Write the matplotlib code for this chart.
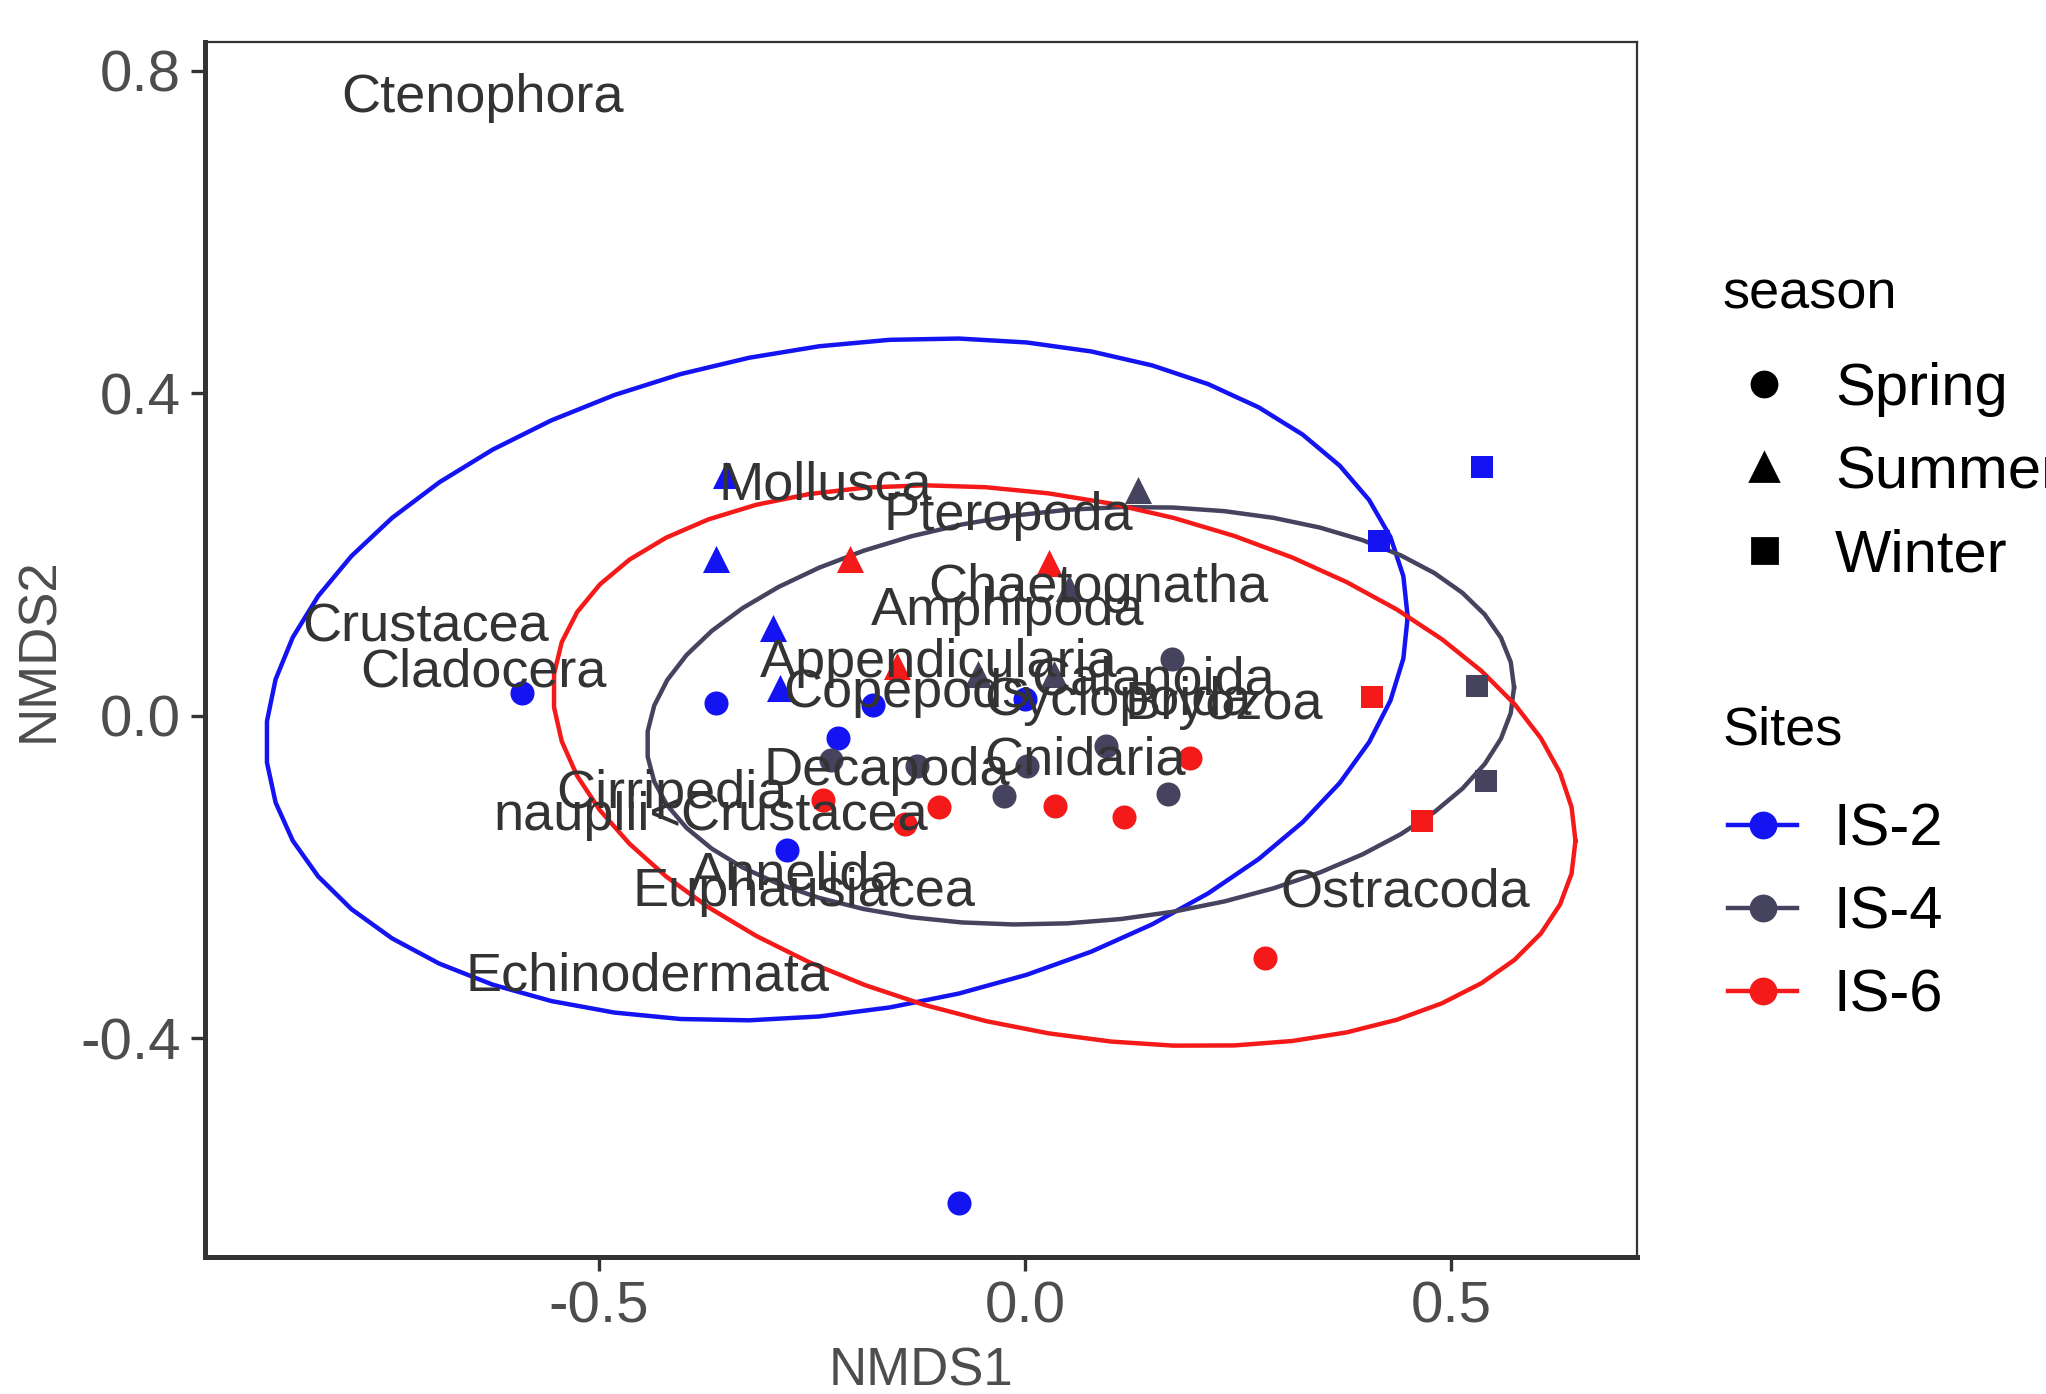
import numpy as np
import matplotlib
matplotlib.use("Agg")
import matplotlib.pyplot as plt
from matplotlib.lines import Line2D

plt.rcParams['font.family'] = ['Liberation Sans', 'DejaVu Sans']
plt.rcParams['axes.unicode_minus'] = False

# NMDS site scores
sites = ["IS-2", "IS-4", "IS-6"]
site_colors = ["#1414F2", "#46435F", "#F51A1A"]
seasons = ["Spring", "Summer", "Winter"]
season_markers = ["o", "^", "s"]

# IS-2
is2_spring_x = [-0.590, -0.363, -0.219, -0.178, 0.000, -0.279, -0.078]
is2_spring_y = [0.028, 0.016, -0.028, 0.013, 0.021, -0.167, -0.604]
is2_summer_x = [-0.351, -0.363, -0.296, -0.288]
is2_summer_y = [0.298, 0.194, 0.109, 0.034]
is2_winter_x = [0.536, 0.415]
is2_winter_y = [0.308, 0.217]
# IS-4
is4_spring_x = [0.173, 0.095, 0.002, -0.127, -0.228, -0.025, 0.168]
is4_spring_y = [0.070, -0.037, -0.063, -0.063, -0.055, -0.100, -0.097]
is4_summer_x = [0.133, 0.052, -0.055, 0.034]
is4_summer_y = [0.280, 0.159, 0.052, 0.052]
is4_winter_x = [0.531, 0.541]
is4_winter_y = [0.037, -0.081]
# IS-6
is6_spring_x = [-0.237, -0.141, -0.101, 0.035, 0.116, 0.193, 0.282]
is6_spring_y = [-0.104, -0.134, -0.113, -0.112, -0.126, -0.052, -0.300]
is6_summer_x = [-0.205, 0.028, -0.150]
is6_summer_y = [0.194, 0.189, 0.062]
is6_winter_x = [0.407, 0.466]
is6_winter_y = [0.023, -0.131]

# ellipse centre and shape (covariance * radius^2) for each site
ell_cx = [-0.221, 0.065, 0.046]
ell_cy = [0.045, 0.000, -0.062]
ell_sxx = [0.449, 0.259, 0.360]
ell_syy = [0.1790, 0.0671, 0.121]
ell_sxy = [0.052, 0.0179, -0.056]

# species scores
species = ["Ctenophora", "Mollusca", "Pteropoda", "Chaetognatha", "Amphipoda",
           "Crustacea", "Cladocera", "Appendicularia", "Copepods", "Cyclopoida",
           "Calanoida", "Bryozoa", "Decapoda", "Cnidaria", "Cirripedia",
           "nauplii<Crustacea", "Annelida", "Euphausiacea", "Echinodermata",
           "Ostracoda"]
species_x = [-0.637, -0.234, -0.020, 0.086, -0.020, -0.703, -0.636, -0.101,
             -0.139, 0.109, 0.150, 0.233, -0.162, 0.070, -0.415, -0.369,
             -0.270, -0.259, -0.443, 0.446]
species_y = [0.766, 0.285, 0.248, 0.159, 0.130, 0.109, 0.053, 0.066, 0.028,
             0.018, 0.044, 0.013, -0.068, -0.055, -0.097, -0.125, -0.198,
             -0.219, -0.324, -0.219]

pts = {
    "IS-2": [(is2_spring_x, is2_spring_y), (is2_summer_x, is2_summer_y), (is2_winter_x, is2_winter_y)],
    "IS-4": [(is4_spring_x, is4_spring_y), (is4_summer_x, is4_summer_y), (is4_winter_x, is4_winter_y)],
    "IS-6": [(is6_spring_x, is6_spring_y), (is6_summer_x, is6_summer_y), (is6_winter_x, is6_winter_y)],
}

fig = plt.figure(figsize=(10.23, 6.97), dpi=200)
ax = fig.add_axes([0.100, 0.098, 0.700, 0.872])

# ellipses
t = np.linspace(0, 2 * np.pi, 52)
for i, s in enumerate(sites):
    M = np.array([[ell_sxx[i], ell_sxy[i]], [ell_sxy[i], ell_syy[i]]])
    L = np.linalg.cholesky(M)
    xy = L @ np.vstack([np.cos(t), np.sin(t)])
    ax.plot(ell_cx[i] + xy[0], ell_cy[i] + xy[1], color=site_colors[i], lw=1.6, zorder=2)

# points
sizes = [75, 95, 68]
for i, s in enumerate(sites):
    for j in range(3):
        x, y = pts[s][j]
        ax.scatter(x, y, marker=season_markers[j], s=sizes[j], color=site_colors[i],
                   linewidths=0, zorder=3)

# species labels
for name, x, y in zip(species, species_x, species_y):
    ax.text(x, y, name, ha="center", va="center", fontsize=19.5, color="#333333", zorder=4)

ax.set_xlim(-0.963, 0.718)
ax.set_ylim(-0.672, 0.836)
ax.set_xticks([-0.5, 0.0, 0.5])
ax.set_yticks([-0.4, 0.0, 0.4, 0.8])
ax.set_xticklabels(["-0.5", "0.0", "0.5"])
ax.set_yticklabels(["-0.4", "0.0", "0.4", "0.8"])
ax.tick_params(labelsize=21, colors="#333333", labelcolor="#4D4D4D", length=5, width=1.2)
for side in ["left", "bottom"]:
    ax.spines[side].set_linewidth(1.8)
    ax.spines[side].set_color("#333333")
for side in ["top", "right"]:
    ax.spines[side].set_linewidth(0.8)
    ax.spines[side].set_color("#333333")
ax.set_xlabel("NMDS1", fontsize=19, color="#4D4D4D", labelpad=4)
ax.set_ylabel("NMDS2", fontsize=19, color="#4D4D4D", labelpad=6)

# legends
fig.text(0.842, 0.789, "season", fontsize=19.5, va="center", ha="left")
fig.text(0.842, 0.476, "Sites", fontsize=19.5, va="center", ha="left")
h_season = [Line2D([], [], ls="none", marker=m, color="black", markersize=ms)
            for m, ms in zip(season_markers, [9, 10, 9])]
leg1 = fig.legend(h_season, seasons, loc="center left",
                  bbox_to_anchor=(0.824, 0.661), frameon=False, fontsize=21.5,
                  borderpad=0, handletextpad=0.4, labelspacing=0.47,
                  handlelength=1.6)
h_site = [Line2D([], [], marker="o", color=c, markersize=9, lw=1.6) for c in site_colors]
leg2 = fig.legend(h_site, sites, loc="center left",
                  bbox_to_anchor=(0.830, 0.345), frameon=False, fontsize=21.5,
                  borderpad=0, handletextpad=0.6, labelspacing=0.47,
                  handlelength=1.16)

fig.savefig("out.png", dpi=200)
